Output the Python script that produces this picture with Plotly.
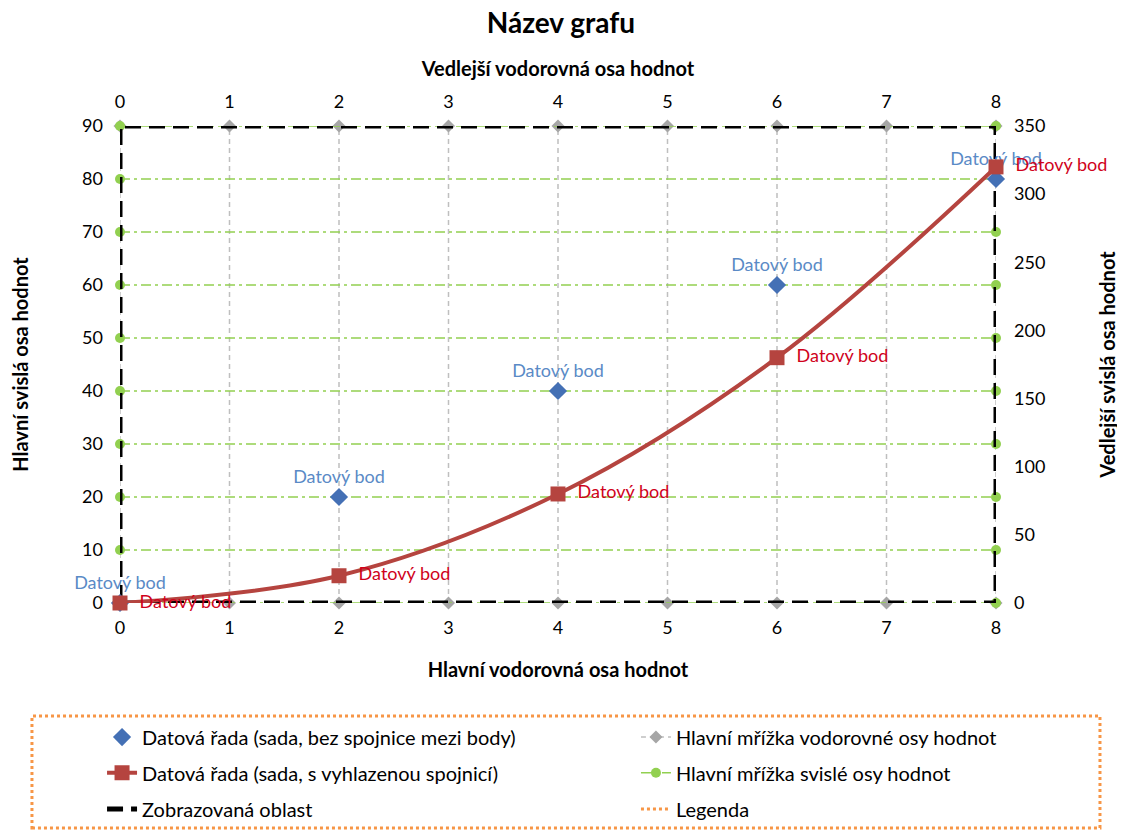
import plotly.graph_objects as go

# ---- data ----
x_blue = [0, 2, 4, 6, 8]
y_blue = [0, 20, 40, 60, 80]
x_red = [0, 2, 4, 6, 8]
y_red = [0, 20, 80, 180, 320]
point_label = "Datový bod"

x_range = [0, 8]
y_range = [0, 90]
y2_range = [0, 350]
x_ticks = list(range(0, 9))
y_ticks = list(range(0, 91, 10))
y2_ticks = list(range(0, 351, 50))

names = {
    "blue": "Datová řada (sada, bez spojnice mezi body)",
    "red": "Datová řada (sada, s vyhlazenou spojnicí)",
    "area": "Zobrazovaná oblast",
    "vgrid": "Hlavní mřížka vodorovné osy hodnot",
    "hgrid": "Hlavní mřížka svislé osy hodnot",
    "legend": "Legenda",
}

FONT = "Lato"
fig = go.Figure()

# vertical gridlines (gray dashed, diamonds at ends)
vx, vy = [], []
for t in x_ticks:
    vx += [t, t, None]
    vy += [y_range[0], y_range[1], None]
# horizontal gridlines (green dash-dot, circles at ends)
hx, hy = [], []
for t in y_ticks:
    hx += [x_range[0], x_range[1], None]
    hy += [t, t, None]

fig.add_trace(go.Scatter(
    x=vx, y=vy, mode="lines+markers", name=names["vgrid"],
    line=dict(color="#BFBFBF", width=1.5, dash="5px,4px"),
    marker=dict(symbol="diamond", size=10, color="#A6A6A6"),
    xaxis="x", yaxis="y", legend="legend2", hoverinfo="skip", cliponaxis=False))
fig.add_trace(go.Scatter(
    x=hx, y=hy, mode="lines+markers", name=names["hgrid"],
    line=dict(color="#92D050", width=1.5, dash="10px,4px,3px,4px"),
    marker=dict(symbol="circle", size=10, color="#92D050"),
    xaxis="x", yaxis="y", legend="legend4", hoverinfo="skip", cliponaxis=False))

# displayed area border
fig.add_trace(go.Scatter(
    x=[x_range[0], x_range[1], x_range[1], x_range[0], x_range[0]],
    y=[y_range[0], y_range[0], y_range[1], y_range[1], y_range[0]],
    mode="lines", name=names["area"],
    line=dict(color="black", width=5, dash="16px,8px"),
    xaxis="x", yaxis="y", legend="legend5", hoverinfo="skip", cliponaxis=False))

# blue scatter
fig.add_trace(go.Scatter(
    x=x_blue, y=y_blue, mode="markers+text", name=names["blue"],
    marker=dict(symbol="diamond", size=14, color="#4470B5"),
    text=[point_label] * len(x_blue), textposition="top center",
    textfont=dict(family=FONT, size=18, color="#5A8AC6"),
    xaxis="x", yaxis="y", legend="legend", cliponaxis=False))

# red smoothed line on secondary y
fig.add_trace(go.Scatter(
    x=x_red, y=y_red, mode="lines+markers+text", name=names["red"],
    line=dict(color="#B5443F", width=4, shape="spline", smoothing=1),
    marker=dict(symbol="square", size=15, color="#B5443F"),
    text=["  " + point_label] * len(x_red), textposition="middle right",
    textfont=dict(family=FONT, size=18, color="#D0021B"),
    xaxis="x", yaxis="y2", legend="legend3", cliponaxis=False))

# legend entry for legend border (also anchors the secondary horizontal axis)
fig.add_trace(go.Scatter(
    x=[None], y=[None], mode="lines", name=names["legend"],
    line=dict(color="#F79646", width=3, dash="dot"),
    xaxis="x2", yaxis="y", legend="legend6"))

axis_font = dict(family=FONT, size=18, color="black")
title_font = dict(family=FONT, size=20, color="black")

common = dict(showgrid=False, zeroline=False, showline=False, ticks="",
              tickfont=axis_font, automargin=False)


def leg(x, y):
    return dict(orientation="v", xref="paper", yref="paper", x=x, y=y,
                xanchor="left", yanchor="middle",
                font=dict(family=FONT, size=20, color="black"),
                bgcolor="rgba(0,0,0,0)", borderwidth=0, itemclick=False)


c1, c2 = -0.0205, 0.589
r1, r2, r3 = -0.281, -0.356, -0.432

fig.update_layout(
    width=1117, height=825,
    margin=dict(l=112, r=129, t=118, b=230, autoexpand=False),
    paper_bgcolor="white", plot_bgcolor="white",
    showlegend=True,
    title=dict(text="<b>Název grafu</b>", x=0.495, xanchor="center", y=0.982,
               yanchor="middle", font=dict(family=FONT, size=28, color="black")),
    xaxis=dict(range=x_range, tickvals=x_ticks, side="bottom", ticklabelstandoff=12,
               title=dict(text="<b>Hlavní vodorovná osa hodnot</b>", font=title_font, standoff=25),
               **common),
    xaxis2=dict(range=x_range, tickvals=x_ticks, side="top", overlaying="x", ticklabelstandoff=13,
                title=dict(text="<b>Vedlejší vodorovná osa hodnot</b>", font=title_font, standoff=8),
                **common),
    yaxis=dict(range=y_range, tickvals=y_ticks, side="left", ticklabelstandoff=16,
               title=dict(text="<b>Hlavní svislá osa hodnot</b>", font=title_font, standoff=51),
               **common),
    yaxis2=dict(range=y2_range, tickvals=y2_ticks, side="right", overlaying="y", ticklabelstandoff=17,
                title=dict(text="<b>Vedlejší svislá osa hodnot</b>", font=title_font, standoff=56),
                **common),
    legend=leg(c1, r1), legend2=leg(c2, r1),
    legend3=leg(c1, r2), legend4=leg(c2, r2),
    legend5=leg(c1, r3), legend6=leg(c2, r3),
    shapes=[dict(type="rect", xref="paper", yref="paper",
                 x0=-0.1005, x1=1.1187, y0=-0.4717, y1=-0.2369,
                 line=dict(color="#F79646", width=3, dash="dot"),
                 fillcolor="rgba(0,0,0,0)", layer="above")],
)

fig.write_html("out.html")
